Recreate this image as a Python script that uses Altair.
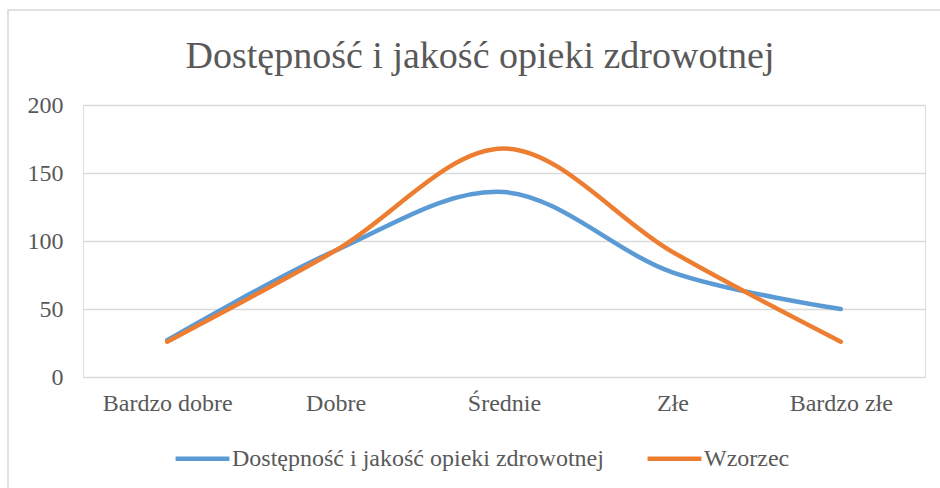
import altair as alt
import pandas as pd

# Ratings along the x axis
categories = ["Bardzo dobre", "Dobre", "Średnie", "Złe", "Bardzo złe"]

# Series values
dostepnosc = [27, 93, 136, 77, 50]
wzorzec = [26, 93, 168, 92, 26]

series_names = ["Dostępność i jakość opieki zdrowotnej", "Wzorzec"]
series_colors = ["#5B9BD5", "#ED7D31"]
title_text = "Dostępność i jakość opieki zdrowotnej"

rows = []
for name, values in zip(series_names, [dostepnosc, wzorzec]):
    for cat, v in zip(categories, values):
        rows.append({"kategoria": cat, "seria": name, "wartosc": v})
df = pd.DataFrame(rows)

FONT = "Liberation Serif"
TEXT = "#595959"

lines = alt.Chart(df).mark_line(strokeWidth=4.5, interpolate="cardinal", strokeCap="round").encode(
    x=alt.X("kategoria:N", sort=categories, title=None,
            scale=alt.Scale(type="point", padding=0.5),
            axis=alt.Axis(labelAngle=0, ticks=False, domain=False, grid=False,
                          labelFont=FONT, labelFontSize=24, labelColor=TEXT,
                          labelPadding=14, labelLimit=0)),
    y=alt.Y("wartosc:Q", title=None,
            scale=alt.Scale(domain=[0, 200], nice=False),
            axis=alt.Axis(values=[0, 50, 100, 150, 200], ticks=False, domain=False,
                          gridColor="#D9D9D9", gridWidth=1.5,
                          labelFont=FONT, labelFontSize=24, labelColor=TEXT,
                          labelPadding=20)),
    color=alt.Color("seria:N", sort=series_names,
                    scale=alt.Scale(domain=series_names, range=series_colors),
                    legend=alt.Legend(title=None, orient="none", direction="horizontal",
                                      legendX=90, legendY=324,
                                      symbolType="stroke", symbolSize=2900,
                                      symbolStrokeWidth=4.5, columnPadding=34,
                                      labelFont=FONT, labelFontSize=24, labelLimit=0,
                                      labelColor=TEXT, labelOffset=0)),
)

# Chart heading
heading = alt.Chart(pd.DataFrame({"t": [title_text]})).mark_text(
    font=FONT, fontSize=38, color=TEXT, align="center", baseline="alphabetic"
).encode(
    text="t:N",
    x=alt.value(397), y=alt.value(-37),
)

# Outer chart frame
frame = alt.Chart(pd.DataFrame({"f": [0]})).mark_rect(
    fill=None, stroke="#D9D9D9", strokeWidth=1.5
).encode(
    x=alt.value(-75), x2=alt.value(870),
    y=alt.value(-95), y2=alt.value(400),
)

chart = alt.layer(frame, heading, lines).properties(
    width=842,
    height=272,
    padding={"left": 83, "top": 105, "right": 15, "bottom": 111},
    autosize=alt.AutoSizeParams(type="none"),
).configure_view(stroke=None).configure(background="white")

chart.save("out.html", embed_options={"renderer": "svg", "actions": False})
